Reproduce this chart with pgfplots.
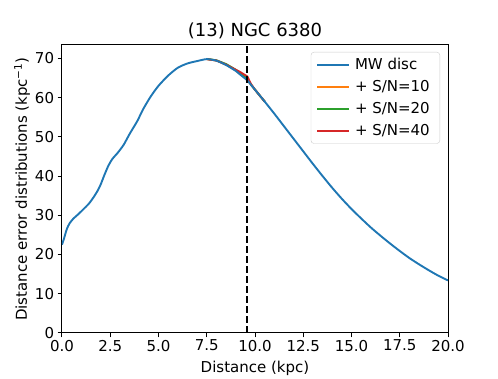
\documentclass[border=0pt]{standalone}
\usepackage{fontspec}
\setmainfont{DejaVu Sans}
\usepackage{pgfplots}
\pgfplotsset{compat=1.18}
\definecolor{tabblue}{HTML}{1F77B4}
\definecolor{taborange}{HTML}{FF7F0E}
\definecolor{tabgreen}{HTML}{2CA02C}
\definecolor{tabred}{HTML}{D62728}
\begin{document}
\begin{tikzpicture}
\begin{axis}[
  scale only axis,
  width=386pt, height=288pt,
  xmin=0, xmax=20, ymin=0, ymax=73.4,
  xtick={0,2.5,5,7.5,10,12.5,15,17.5,20},
  xticklabels={0.0,2.5,5.0,7.5,10.0,12.5,15.0,17.5,20.0},
  ytick={0,10,20,30,40,50,60,70},
  xtick pos=bottom, ytick pos=left,
  tick align=outside,
  major tick length=4.4pt,
  every tick/.style={black, line width=1pt},
  axis line style={black, line width=1pt},
  /pgf/number format/assume math mode=true,
  tick label style={font=\fontsize{15}{18}\selectfont},
  xticklabel style={yshift=1pt},
  label style={font=\fontsize{15}{18}\selectfont},
  title style={font=\fontsize{18}{21}\selectfont, yshift=-3pt},
  title={(13) NGC 6380},
  xlabel={Distance (kpc)},
  ylabel={Distance error distributions (kpc\textsuperscript{−1})},
  xlabel style={yshift=-3pt},
  ylabel style={yshift=-2pt},
  legend cell align=left,
  legend style={at={(rel axis cs:1,1)}, anchor=north east, xshift=-8pt, yshift=-7pt,
    draw=black!20, rounded corners=3pt, font=\fontsize{15}{18}\selectfont,
    row sep=5.5pt, inner xsep=5pt, inner ysep=4pt,
    nodes={inner xsep=5pt}},
  legend image code/.code={\draw[#1, line width=2pt] (0pt,0pt) -- (32pt,0pt);},
]
\addlegendimage{tabblue, line width=1.9pt}
\addlegendentry{MW disc}
\addplot[taborange, line width=1.9pt] coordinates {
(7.5,69.8) (8.0,69.45) (8.5,68.4) (9.0,66.95) (9.2,66.1) (9.4,65.35) (9.6,64.55) (9.8,63.25) (10.0,62.0) (10.5,59.0)
};
\addlegendentry{+ S/N=10}
\addplot[tabgreen, line width=1.9pt] coordinates {
(7.5,69.85) (8.0,69.5) (8.5,68.55) (9.0,67.1) (9.2,66.4) (9.4,65.6) (9.6,64.75) (9.8,63.3) (10.0,62.0) (10.5,59.0)
};
\addlegendentry{+ S/N=20}
\addplot[tabred, line width=1.9pt] coordinates {
(7.5,69.8) (8.0,69.45) (8.5,68.4) (9.0,67.1) (9.2,66.6) (9.4,66.0) (9.6,65.4) (9.7,64.4) (9.8,63.4) (10.0,62.0) (10.5,59.0)
};
\addlegendentry{+ S/N=40}
\addplot[tabblue, line width=1.9pt, smooth, tension=0.4, forget plot] coordinates {
(0,22.5) (0.1,24.0) (0.25,26.5) (0.4,28.0) (0.6,29.2) (0.85,30.3) (1.1,31.5)
(1.4,33.0) (1.65,34.7) (1.85,36.3) (2.0,37.8) (2.2,40.3) (2.4,42.6) (2.6,44.3)
(2.9,46.0) (3.2,48.0) (3.5,50.7) (3.9,54.0) (4.2,57.0) (4.6,60.3) (5.0,63.0)
(5.5,65.6) (6.0,67.6) (6.5,68.7) (7.0,69.3) (7.5,69.8) (8.0,69.4) (8.5,68.3)
(9.0,66.8) (9.2,66.0) (9.4,65.2) (9.6,64.4) (9.8,63.2) (10.0,62.0) (10.5,59.0)
(11.0,55.9) (11.5,52.7) (12.0,49.5) (12.5,46.3) (13.0,43.1) (13.5,40.0)
(14.0,37.0) (14.5,34.2) (15.0,31.6) (15.5,29.2) (16.0,26.9) (16.5,24.8)
(17.0,22.8) (17.5,20.9) (18.0,19.1) (18.5,17.5) (19.0,16.0) (19.5,14.6) (20.0,13.4)
};
\addplot[black, line width=1.9pt, dash pattern=on 7pt off 3pt, forget plot] coordinates {(9.6,0) (9.6,73.4)};
\end{axis}
\path[use as bounding box] ([shift={(-62pt,-41pt)}]current axis.south west) rectangle ([shift={(50pt,45pt)}]current axis.north east);
\end{tikzpicture}
\end{document}
